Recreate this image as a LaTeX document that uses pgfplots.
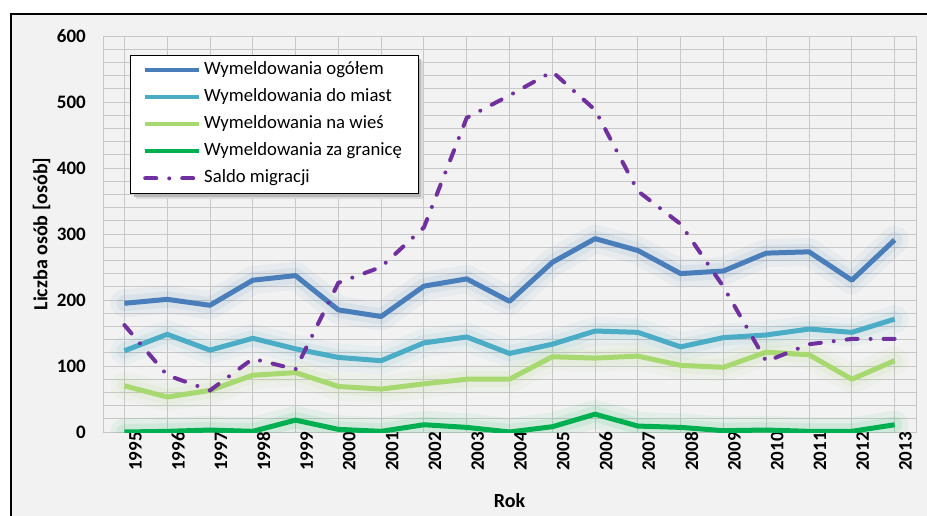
\documentclass[border=0pt]{standalone}
\usepackage{fontspec}
\setmainfont{Carlito}
\usepackage{pgfplots}
\usepackage{pgfplotstable}
\pgfplotsset{compat=1.18}
\definecolor{cA}{HTML}{4A7EBB}
\definecolor{cB}{HTML}{4BACC6}
\definecolor{cC}{HTML}{A8D870}
\definecolor{cD}{HTML}{00B050}
\definecolor{cE}{HTML}{7030A0}
\definecolor{bg}{HTML}{F2F2F2}
\pgfplotstableread{
year ogol miast wies granica saldo
1995 195 123 70 0 162
1996 201 148 53 1 86
1997 192 124 63 3 63
1998 230 142 86 1 111
1999 237 126 90 18 95
2000 185 113 69 4 226
2001 175 108 65 1 250
2002 221 135 73 11 310
2003 232 144 80 7 476
2004 198 119 80 0 510
2005 257 133 114 8 546
2006 293 153 112 27 488
2007 275 151 115 9 365
2008 240 129 101 7 315
2009 244 143 98 2 220
2010 271 147 121 3 107
2011 273 156 117 1 133
2012 230 151 80 1 141
2013 291 171 108 11 141
}\data
\pgfplotsset{
  halo/.style={draw=#1, line width=28pt, opacity=0.06, forget plot, line join=round, line cap=round},
  haloB/.style={draw=#1, line width=16pt, opacity=0.09, forget plot, line join=round, line cap=round},
}
\begin{document}
\begin{tikzpicture}
\clip (0pt,0pt) rectangle (927pt,515pt);
\fill[white] (0pt,0pt) rectangle (927pt,515pt);
\draw[line width=2pt, fill=bg] (11pt,-20pt) rectangle (960pt,501pt);
\begin{axis}[
  at={(103pt,83pt)}, anchor=south west,
  scale only axis, width=813pt, height=396pt,
  xmin=1994.5, xmax=2013.5, ymin=0, ymax=600,
  xtick={1995,...,2013}, ytick={0,100,...,600},
  minor x tick num=1, minor y tick num=4,
  grid=both,
  major grid style={black!22, line width=0.9pt},
  minor grid style={black!22, line width=0.9pt},
  major tick length=0pt, minor tick length=0pt,
  axis line style={black!22, line width=0.9pt},
  /pgf/number format/assume math mode=true,
  /pgf/number format/1000 sep={},
  ticklabel style={font=\fontsize{19}{22}\selectfont\bfseries},
  yticklabel style={anchor=east, inner sep=0pt, xshift=-17pt},
  xticklabel style={rotate=90, anchor=east, inner sep=0pt, yshift=-11pt},
  xlabel={Rok}, ylabel={Liczba osób [osób]},
  label style={font=\fontsize{20}{24}\selectfont\bfseries},
  xlabel style={at={(axis description cs:0.5,-0.174)}, anchor=center},
  ylabel style={at={(axis description cs:-0.0756,0.5)}, anchor=center},
  legend style={at={(rel axis cs:0.033,0.952)}, anchor=north west,
    draw=black, line width=0.8pt, fill=white,
    font=\fontsize{18.7}{22}\selectfont, inner xsep=13pt, inner ysep=6pt,
    row sep=9pt,
    nodes={inner ysep=0pt, text height=13pt, text depth=5pt, inner xsep=3pt}},
  legend cell align=left,
  legend image code/.code={\draw[#1, line width=4pt] (0pt,0pt) -- (54pt,0pt);},
]
\fill[black!14] (rel axis cs:0.0406,0.9369) rectangle (rel axis cs:0.3936,0.5884);
\fill[black!28] (rel axis cs:0.0381,0.9419) rectangle (rel axis cs:0.3911,0.5934);
\addplot[halo=cA] table[x=year,y=ogol]{\data};
\addplot[haloB=cA] table[x=year,y=ogol]{\data};
\addplot[halo=cB] table[x=year,y=miast]{\data};
\addplot[haloB=cB] table[x=year,y=miast]{\data};
\addplot[halo=cC] table[x=year,y=wies]{\data};
\addplot[haloB=cC] table[x=year,y=wies]{\data};
\addplot[halo=cD] table[x=year,y=granica]{\data};
\addplot[haloB=cD] table[x=year,y=granica]{\data};
\addplot[cA, line width=5pt, line join=round] table[x=year,y=ogol]{\data};
\addlegendentry{Wymeldowania ogółem}
\addplot[cB, line width=5pt, line join=round] table[x=year,y=miast]{\data};
\addlegendentry{Wymeldowania do miast}
\addplot[cC, line width=5pt, line join=round] table[x=year,y=wies]{\data};
\addlegendentry{Wymeldowania na wieś}
\addplot[cD, line width=5pt, line join=round] table[x=year,y=granica]{\data};
\addlegendentry{Wymeldowania za granicę}
\addplot[cE, line width=4pt, line cap=round, dash pattern=on 11pt off 13pt on 0pt off 13pt] table[x=year,y=saldo]{\data};
\addlegendentry{Saldo migracji}
\end{axis}
\end{tikzpicture}
\end{document}
